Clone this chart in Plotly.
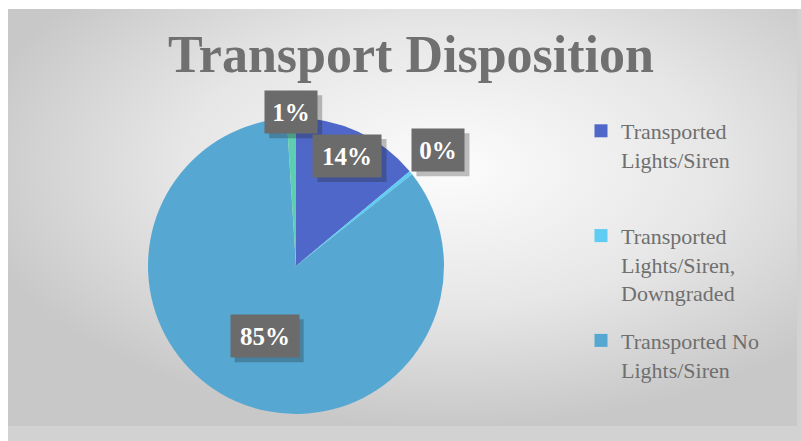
import base64
import math

import plotly.graph_objects as go

# Data
Categories = [
    "Transported Lights/Siren",
    "Transported Lights/Siren, Downgraded",
    "Transported No Lights/Siren",
    "Transported No Lights/Siren, Upgraded",
]
Legend_Labels = [
    "Transported<br>Lights/Siren<br> ",
    "Transported<br>Lights/Siren,<br>Downgraded",
    "Transported No<br>Lights/Siren",
]
Values = [14, 0.4, 85, 1]
Colors = ["#4E67C8", "#5ECCF3", "#56A8D2", "#5DCEAF"]

W, H = 801, 441
CX, CY, R = 296, 266, 148
# label distance from centre, as share of radius
Label_Radius = [0.82, 1.24, 0.52, 1.04]

# Background: grey radial gradient frame like the Excel chart area
svg = f"""<svg xmlns='http://www.w3.org/2000/svg' width='{W}' height='{H}' viewBox='0 0 {W} {H}' preserveAspectRatio='none'>
<defs><radialGradient id='g' cx='0.56' cy='0.38' r='0.62'>
<stop offset='0' stop-color='#fcfcfc'/><stop offset='0.55' stop-color='#e6e6e6'/><stop offset='1' stop-color='#c8c8c8'/>
</radialGradient></defs>
<rect x='0' y='0' width='{W}' height='{H}' fill='#ffffff'/>
<rect x='8' y='9' width='{W-8}' height='{H-9}' fill='#d2d2d2'/>
<rect x='8' y='9' width='789' height='417' fill='url(#g)'/>
</svg>"""
bg_src = "data:image/svg+xml;base64," + base64.b64encode(svg.encode()).decode()

fig = go.Figure()

fig.add_trace(go.Pie(
    labels=Categories
    ,values=Values
    ,marker=dict(colors=Colors, line=dict(width=0))
    ,sort=False
    ,direction="clockwise"
    ,rotation=0
    ,textinfo="none"
    ,hoverinfo="label+percent"
    ,showlegend=False
    ,domain=dict(x=[(CX - R) / W, (CX + R) / W], y=[(H - CY - R) / H, (H - CY + R) / H])
))

# Legend entries (only three shown in the original)
for name, color in zip(Legend_Labels, Colors[:3]):
    fig.add_trace(go.Scatter(
        x=[None], y=[None]
        ,mode="markers"
        ,marker=dict(symbol="square", size=13, color=color)
        ,name=name
        ,legendgroup=name
        ,hoverinfo="skip"
    ))

# Percent labels in grey boxes
total = sum(Values)
cum = 0
for v, f in zip(Values, Label_Radius):
    mid = (cum + v / 2) / total * 2 * math.pi
    cum += v
    px = CX + R * f * math.sin(mid)
    py = CY - R * f * math.cos(mid)
    txt = f"{round(v / total * 100)}%"
    tw = 16 * len(txt) + 8
    bw, bh = tw + 12, 42
    # shadow
    fig.add_shape(
        type="rect", xref="paper", yref="paper"
        ,xsizemode="pixel", ysizemode="pixel"
        ,xanchor=px / W, yanchor=1 - py / H
        ,x0=-bw / 2 + 4, x1=bw / 2 + 5, y0=-bh / 2 - 5, y1=bh / 2 - 4
        ,fillcolor="rgba(30,30,30,0.28)", line=dict(width=0)
    )
    fig.add_annotation(
        x=px / W, y=1 - py / H, xref="paper", yref="paper"
        ,xanchor="center", yanchor="middle"
        ,text=f"<b>{txt}</b>", showarrow=False
        ,width=tw, height=bh - 12
        ,font=dict(family="Liberation Serif", size=25, color="#ffffff")
        ,bgcolor="#6b6b6b", borderpad=6
    )

fig.update_layout(
    width=W, height=H
    ,margin=dict(l=0, r=0, t=0, b=0)
    ,paper_bgcolor="#ffffff"
    ,plot_bgcolor="rgba(0,0,0,0)"
    ,title=dict(
        text="<b>Transport Disposition</b>"
        ,x=411 / W, xanchor="center"
        ,y=1 - 54 / H, yanchor="middle"
        ,font=dict(family="Liberation Serif", size=52, color="#707070")
    )
    ,legend=dict(
        x=581 / W, xanchor="left"
        ,y=1 - 110 / H, yanchor="top"
        ,font=dict(family="Liberation Serif", size=22, color="#6f6f6f")
        ,bgcolor="rgba(0,0,0,0)"
        ,valign="top"
        ,traceorder="grouped"
        ,tracegroupgap=16
        ,itemclick=False
    )
    ,xaxis=dict(visible=False)
    ,yaxis=dict(visible=False)
    ,images=[dict(
        source=bg_src, xref="paper", yref="paper"
        ,x=0, y=1, sizex=1, sizey=1
        ,xanchor="left", yanchor="top"
        ,sizing="stretch", layer="below"
    )]
)

fig.write_html("out.html", config={"displayModeBar": False}, post_script="document.body.style.margin='0';")
